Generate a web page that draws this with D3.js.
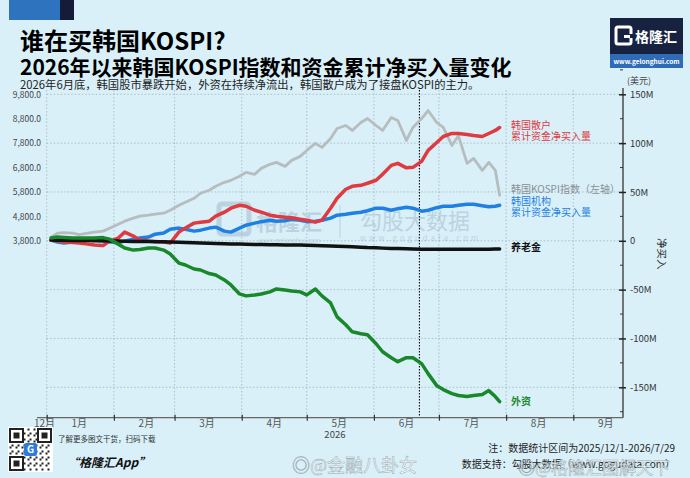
<!DOCTYPE html>
<html>
<head>
<meta charset="utf-8">
<script src="https://cdn.jsdelivr.net/npm/d3@7"></script>
<style>
  html, body { margin: 0; padding: 0; background: #d9f0f9; }
  svg { display: block; }
  text { font-family: 'Noto Sans CJK SC', 'Noto Sans', sans-serif; }
</style>
</head>
<body>
<script>
'use strict';

// trading dates sampled roughly twice a week
const dates = ['2026-01-03','2026-01-06','2026-01-09','2026-01-13','2026-01-16','2026-01-20','2026-01-23','2026-01-27','2026-01-30',
  '2026-02-03','2026-02-06','2026-02-10','2026-02-13','2026-02-17','2026-02-20','2026-02-24','2026-02-27',
  '2026-03-03','2026-03-06','2026-03-10','2026-03-13','2026-03-17','2026-03-20','2026-03-24','2026-03-27','2026-03-31',
  '2026-04-03','2026-04-07','2026-04-10','2026-04-14','2026-04-17','2026-04-21','2026-04-24','2026-04-28',
  '2026-05-01','2026-05-05','2026-05-08','2026-05-12','2026-05-15','2026-05-19','2026-05-22','2026-05-26','2026-05-29',
  '2026-06-02','2026-06-05','2026-06-09','2026-06-12','2026-06-16','2026-06-19','2026-06-23','2026-06-26','2026-06-30',
  '2026-07-03','2026-07-07','2026-07-10','2026-07-14','2026-07-17','2026-07-21','2026-07-24','2026-07-27','2026-07-29'];

// KOSPI index (left axis)
const kospi = [3951,4114,4135,4114,4053,4114,4155,4196,4318,
  4482,4604,4727,4808,4849,4890,4931,5053,
  5257,5380,5542,5747,5869,6033,6196,6278,6441,
  6604,6522,6767,6931,7012,6849,7094,7257,
  7502,7788,7624,7992,8400,8522,8318,8645,8808,
  8522,8318,8849,8727,7910,8441,8808,9135,8645,
  8441,7706,8100,6971,7176,6686,7012,6686,5665];

// cumulative net buying, million USD (right axis)
const retail = [0.7,-0.3,-1.3,-1.8,-2.3,-3.4,-4.4,-4.9,-0.3,
  2.8,8.9,4.8,0.7,-0.3,-0.8,-1.3,-2.3,
  8.9,13.0,18.1,19.1,20.1,25.2,29.3,33.4,36.4,
  35.4,31.3,29.3,26.2,25.2,24.2,23.7,22.1,
  21.1,19.1,21.1,33.4,43.6,52.8,55.8,56.8,58.9,
  62.0,68.1,77.2,79.3,74.7,75.2,81.3,92.6,100.7,
  106.8,109.9,109.9,108.9,107.9,106.8,109.9,113.0,116.0];

const institution = [0.7,-1.3,-2.3,-1.3,-0.3,0.2,0.7,-0.3,-1.3,
  -1.8,-0.3,1.7,2.8,3.8,6.8,7.9,11.9,
  13.0,11.9,9.9,10.9,13.0,14.0,9.9,8.9,13.0,
  16.0,18.1,19.6,21.1,20.1,20.6,22.1,21.1,
  19.6,20.1,21.1,23.2,26.2,27.2,28.3,29.3,30.8,
  33.4,33.4,31.3,32.9,34.4,33.4,30.3,31.3,33.9,
  35.4,35.4,36.4,37.4,37.4,35.9,34.9,35.4,36.4];

const pension = [0.7,0.6,0.5,0.4,0.3,0.2,0.1,0.0,-0.2,
  -0.3,-0.4,-0.6,-0.7,-0.8,-1.0,-1.1,-1.3,
  -1.5,-1.7,-2.0,-2.2,-2.5,-2.7,-3.0,-3.2,-3.4,
  -3.5,-3.7,-3.8,-4.0,-4.1,-4.2,-4.3,-4.4,
  -4.6,-4.8,-5.0,-5.4,-5.6,-5.9,-6.1,-6.5,-6.9,
  -7.2,-7.5,-7.8,-8.0,-8.2,-8.4,-8.6,-8.6,-8.7,
  -8.7,-8.7,-8.6,-8.6,-8.6,-8.7,-8.6,-8.5,-8.4];

const foreign = [2.8,3.8,3.3,2.8,2.8,2.8,2.8,3.3,1.7,
  -3.4,-7.4,-9.5,-9.0,-7.4,-7.4,-9.5,-13.6,
  -22.8,-24.8,-28.9,-29.9,-33.5,-35.0,-40.1,-45.2,-54.4,
  -56.4,-55.4,-54.4,-52.3,-49.3,-50.3,-51.3,-52.3,
  -55.4,-49.3,-56.4,-63.6,-77.9,-86.0,-93.2,-95.2,-96.2,
  -105.4,-113.6,-119.7,-123.8,-119.7,-119.7,-125.8,-136.0,-148.3,
  -152.3,-156.4,-158.4,-159.5,-158.4,-157.4,-153.4,-159.5,-164.6];

const leftTicks = [3800, 4800, 5800, 6800, 7800, 8800, 9800];
const rightTicks = [-150, -100, -50, 0, 50, 100, 150];
const monthLabels = ['12月','1月','2月','3月','4月','5月','6月','7月','8月','9月'];

const COLORS = {
  bg: '#d9f0f9', kospi: '#b7bcbf', retail: '#df3a3f', institution: '#1f80e2',
  pension: '#111111', foreign: '#19882a', grid: '#9fb3bb'
};

const parse = d3.timeParse('%Y-%m-%d');
const dd = dates.map(parse);

const svg = d3.select('body').append('svg').attr('width', 690).attr('height', 478);
svg.append('rect').attr('width', 690).attr('height', 478).attr('fill', COLORS.bg);

// scales
const x = d3.scaleTime()
  .domain([new Date(2026, 0, 1), new Date(2026, 8, 1)])
  .range([46.7, 573.3]);
const yR = d3.scaleLinear().domain([-150, 150]).range([387.3, 94.3]);
const yL = d3.scaleLinear().domain([3800, 9800]).range([240.8, 94.3]);
const X0 = 37, X1 = 623, YTOP = 90, YBOT = 417.7;

// corner decorations
svg.append('rect').attr('x', 9).attr('y', 0).attr('width', 51).attr('height', 20).attr('fill', '#2e73bd');
svg.append('rect').attr('x', 60).attr('y', 0).attr('width', 14).attr('height', 20).attr('fill', '#141c3a');

// logo
const logo = svg.append('g').attr('transform', 'translate(610,18)');
logo.append('rect').attr('width', 73).attr('height', 50).attr('fill', '#172240');
logo.append('rect').attr('y', 36).attr('width', 73).attr('height', 14).attr('fill', '#2f6cb6');
logo.append('rect').attr('x', 6).attr('y', 9).attr('width', 15).attr('height', 17).attr('rx', 2)
  .attr('fill', 'none').attr('stroke', '#fff').attr('stroke-width', 3);
logo.append('rect').attr('x', 13).attr('y', 16).attr('width', 10).attr('height', 4).attr('fill', '#172240');
logo.append('rect').attr('x', 14).attr('y', 17).attr('width', 6).attr('height', 3).attr('fill', '#fff');
logo.append('text').attr('x', 25).attr('y', 24).attr('font-size', 14).attr('font-weight', 700)
  .attr('fill', '#fff').text('格隆汇');
logo.append('text').attr('x', 36.5).attr('y', 46).attr('font-size', 6.5).attr('font-weight', 700)
  .attr('text-anchor', 'middle').attr('fill', '#fff').attr('font-family', 'Liberation Sans, sans-serif')
  .text('www.gelonghui.com');

// titles
svg.append('text').attr('x', 20).attr('y', 50).attr('font-size', 24).attr('font-weight', 700)
  .attr('fill', '#000').text('谁在买韩国KOSPI?');
svg.append('text').attr('x', 20).attr('y', 75).attr('font-size', 21).attr('font-weight', 700)
  .attr('fill', '#000').text('2026年以来韩国KOSPI指数和资金累计净买入量变化');
svg.append('text').attr('x', 20).attr('y', 88.5).attr('font-size', 11.3).attr('fill', '#222')
  .text('2026年6月底，韩国股市暴跌开始，外资在持续净流出，韩国散户成为了接盘KOSPI的主力。');

// grid lines
const grid = svg.append('g');
grid.selectAll('.hg').data(rightTicks).enter().append('line')
  .attr('x1', 46.7).attr('x2', X1).attr('y1', d => yR(d)).attr('y2', d => yR(d))
  .attr('stroke', COLORS.grid).attr('stroke-width', 0.8).attr('stroke-dasharray', '1.5,2');
const months = d3.timeMonth.range(new Date(2026, 0, 1), new Date(2026, 8, 2));
grid.selectAll('.vg').data(months).enter().append('line')
  .attr('x1', d => x(d)).attr('x2', d => x(d)).attr('y1', YTOP).attr('y2', YBOT)
  .attr('stroke', COLORS.grid).attr('stroke-width', 0.8).attr('stroke-dasharray', '1.5,2');

// in-chart watermarks
const wm = svg.append('g').attr('opacity', 0.4);
wm.append('rect').attr('x', 219).attr('y', 204).attr('width', 30).attr('height', 30).attr('rx', 3)
  .attr('fill', 'none').attr('stroke', '#8fa9bb').attr('stroke-width', 5);
wm.append('text').attr('x', 256).attr('y', 230).attr('font-size', 22).attr('font-weight', 700)
  .attr('fill', '#8fa9bb').text('格隆汇');
wm.append('text').attr('x', 258).attr('y', 243).attr('font-size', 6.5).attr('fill', '#8fa9bb')
  .attr('font-family', 'Liberation Sans, sans-serif').text('www.gelonghui.com');
wm.append('line').attr('x1', 340).attr('x2', 340).attr('y1', 205).attr('y2', 238)
  .attr('stroke', '#8fa9bb').attr('stroke-width', 1);
wm.append('text').attr('x', 360).attr('y', 229).attr('font-size', 22).attr('fill', '#8fa9bb').text('勾股大数据');
wm.append('text').attr('x', 360).attr('y', 241).attr('font-size', 7.5).attr('letter-spacing', 3.2)
  .attr('fill', '#8fa9bb').attr('font-family', 'Liberation Sans, sans-serif').text('www.gogudata.com');

// June marker
svg.append('line').attr('x1', x(new Date(2026, 5, 22))).attr('x2', x(new Date(2026, 5, 22)))
  .attr('y1', YTOP).attr('y2', YBOT).attr('stroke', '#111').attr('stroke-width', 1.1)
  .attr('stroke-dasharray', '1.5,1.5');

// left axis
const leftAxis = svg.append('g').attr('transform', 'translate(43,0)')
  .call(d3.axisLeft(yL).tickValues(leftTicks).tickFormat(d3.format(',.1f')).tickSize(0));
leftAxis.select('.domain').remove();
leftAxis.selectAll('text').attr('font-size', 8.5).attr('fill', '#444')
  .attr('font-family', 'Liberation Sans Narrow, Liberation Sans, sans-serif').attr('dx', 1);

// right axis
const rightAxis = svg.append('g').attr('transform', 'translate(' + X1 + ',0)')
  .call(d3.axisRight(yR).tickValues(rightTicks).tickFormat(d => d === 0 ? '0' : d + 'M').tickSize(3).tickPadding(4));
rightAxis.select('.domain').attr('d', 'M0,' + 88 + 'V' + YBOT).attr('stroke', '#333').attr('stroke-width', 1.3);
rightAxis.selectAll('.tick line').attr('x1', -4).attr('stroke', '#222').attr('stroke-width', 1.5);
rightAxis.selectAll('text').attr('font-size', 9.5).attr('fill', '#333')
  .attr('font-family', 'Liberation Sans Narrow, Liberation Sans, sans-serif');
svg.append('g').selectAll('line').data(d3.range(-175, 176, 50)).enter().append('line')
  .attr('x1', X1 - 3).attr('x2', X1).attr('y1', d => yR(d)).attr('y2', d => yR(d))
  .attr('stroke', '#333').attr('stroke-width', 1);
svg.append('text').attr('x', 627).attr('y', 84).attr('font-size', 9).attr('fill', '#444').text('(美元)');
svg.append('text').attr('transform', 'translate(658,238) rotate(90)').attr('font-size', 10.5)
  .attr('fill', '#333').text('净买入');

// bottom axis
const bottomAxis = svg.append('g').attr('transform', 'translate(0,' + YBOT + ')')
  .call(d3.axisBottom(x).tickValues(months).tickFormat('').tickSizeInner(3).tickSizeOuter(0));
bottomAxis.select('.domain').attr('d', 'M' + X0 + ',0H' + X1).attr('stroke', '#666').attr('stroke-width', 1.2);
bottomAxis.selectAll('.tick line').attr('y1', -3).attr('stroke', '#333').attr('stroke-width', 1.2);
const labelDates = [new Date(2025, 11, 31)].concat(d3.range(0, 9).map(m => new Date(2026, m, 16)));
svg.append('g').selectAll('text').data(monthLabels).enter().append('text')
  .attr('x', (d, i) => x(labelDates[i])).attr('y', 427).attr('text-anchor', 'middle')
  .attr('font-size', 10).attr('fill', '#555').text(d => d);
svg.append('text').attr('x', x(new Date(2026, 4, 14))).attr('y', 438).attr('text-anchor', 'middle')
  .attr('font-size', 9.5).attr('fill', '#444').attr('font-family', 'Liberation Sans, sans-serif').text('2026');

// series
const lineR = v => d3.line().x((d, i) => x(dd[i])).y(d => yR(d))(v);
const lineL = d3.line().x((d, i) => x(dd[i])).y(d => yL(d));
const plot = svg.append('g').attr('fill', 'none').attr('stroke-linejoin', 'round').attr('stroke-linecap', 'round');
plot.append('path').attr('d', lineL(kospi)).attr('stroke', COLORS.kospi).attr('stroke-width', 2.8);
plot.append('path').attr('d', lineR(institution)).attr('stroke', COLORS.institution).attr('stroke-width', 3.5);
plot.append('path').attr('d', lineR(retail)).attr('stroke', COLORS.retail).attr('stroke-width', 3.5);
plot.append('path').attr('d', lineR(pension)).attr('stroke', COLORS.pension).attr('stroke-width', 3.5);
plot.append('path').attr('d', lineR(foreign)).attr('stroke', COLORS.foreign).attr('stroke-width', 3.5);

// series labels
const labels = [
  { t: '韩国散户', y: 129, c: COLORS.retail, w: 400 },
  { t: '累计资金净买入量', y: 139.5, c: COLORS.retail, w: 400 },
  { t: '韩国KOSPI指数（左轴）', y: 193, c: '#8a8f92', w: 400 },
  { t: '韩国机构', y: 205, c: COLORS.institution, w: 400 },
  { t: '累计资金净买入量', y: 215.5, c: COLORS.institution, w: 400 },
  { t: '养老金', y: 251, c: '#111', w: 700 },
  { t: '外资', y: 405, c: COLORS.foreign, w: 700 }
];
svg.append('g').selectAll('text').data(labels).enter().append('text')
  .attr('x', 511).attr('y', d => d.y).attr('font-size', 10).attr('font-weight', d => d.w)
  .attr('fill', d => d.c).text(d => d.t);

// footer: QR code
const qr = svg.append('g').attr('transform', 'translate(8,427)');
qr.append('rect').attr('width', 45).attr('height', 45).attr('fill', '#fff');
const cells = [];
for (let i = 0; i < 21; i++) for (let j = 0; j < 21; j++) {
  const finder = (i < 7 && j < 7) || (i < 7 && j > 13) || (i > 13 && j < 7);
  if (!finder && ((i * 7 + j * 11 + i * j) % 3 === 0)) cells.push([i, j]);
}
qr.selectAll('.c').data(cells).enter().append('rect')
  .attr('x', d => 1.5 + d[1] * 2).attr('y', d => 1.5 + d[0] * 2).attr('width', 2).attr('height', 2).attr('fill', '#222');
[[0, 0], [0, 14], [14, 0]].forEach(p => {
  qr.append('rect').attr('x', 2 + p[1] * 2).attr('y', 2 + p[0] * 2).attr('width', 13).attr('height', 13)
    .attr('fill', 'none').attr('stroke', '#222').attr('stroke-width', 2);
  qr.append('rect').attr('x', 5.5 + p[1] * 2).attr('y', 5.5 + p[0] * 2).attr('width', 6).attr('height', 6).attr('fill', '#222');
});
qr.append('rect').attr('x', 16).attr('y', 16).attr('width', 13).attr('height', 13).attr('rx', 2).attr('fill', '#2c7be5');
qr.append('text').attr('x', 22.5).attr('y', 26).attr('text-anchor', 'middle').attr('font-size', 10)
  .attr('font-weight', 700).attr('fill', '#fff').attr('font-family', 'Liberation Sans, sans-serif').text('G');

svg.append('text').attr('x', 58).attr('y', 442).attr('font-size', 7.5).attr('fill', '#333').text('了解更多图文干货，扫码下载');
svg.append('text').attr('x', 67).attr('y', 467).attr('font-size', 12).attr('font-weight', 700)
  .attr('font-style', 'italic').attr('fill', '#111').text('“格隆汇App”');

svg.append('text').attr('x', 675).attr('y', 452).attr('text-anchor', 'end').attr('font-size', 10)
  .attr('fill', '#222').text('注：数据统计区间为2025/12/1-2026/7/29');
svg.append('text').attr('x', 675).attr('y', 468).attr('text-anchor', 'end').attr('font-size', 10)
  .attr('fill', '#222').text('数据支持：勾股大数据（www.gogudata.com）');

// overlay watermarks
const ov = svg.append('g').attr('fill', '#ffffff').attr('stroke', '#8a9aa3').attr('stroke-width', 0.5).attr('opacity', 0.85);
ov.append('text').attr('x', 292).attr('y', 472).attr('font-size', 18).text('◎@金融八卦女');
ov.append('text').attr('x', 518).attr('y', 474).attr('font-size', 17).text('◎@格隆汇图解天下');
</script>
</body>
</html>
